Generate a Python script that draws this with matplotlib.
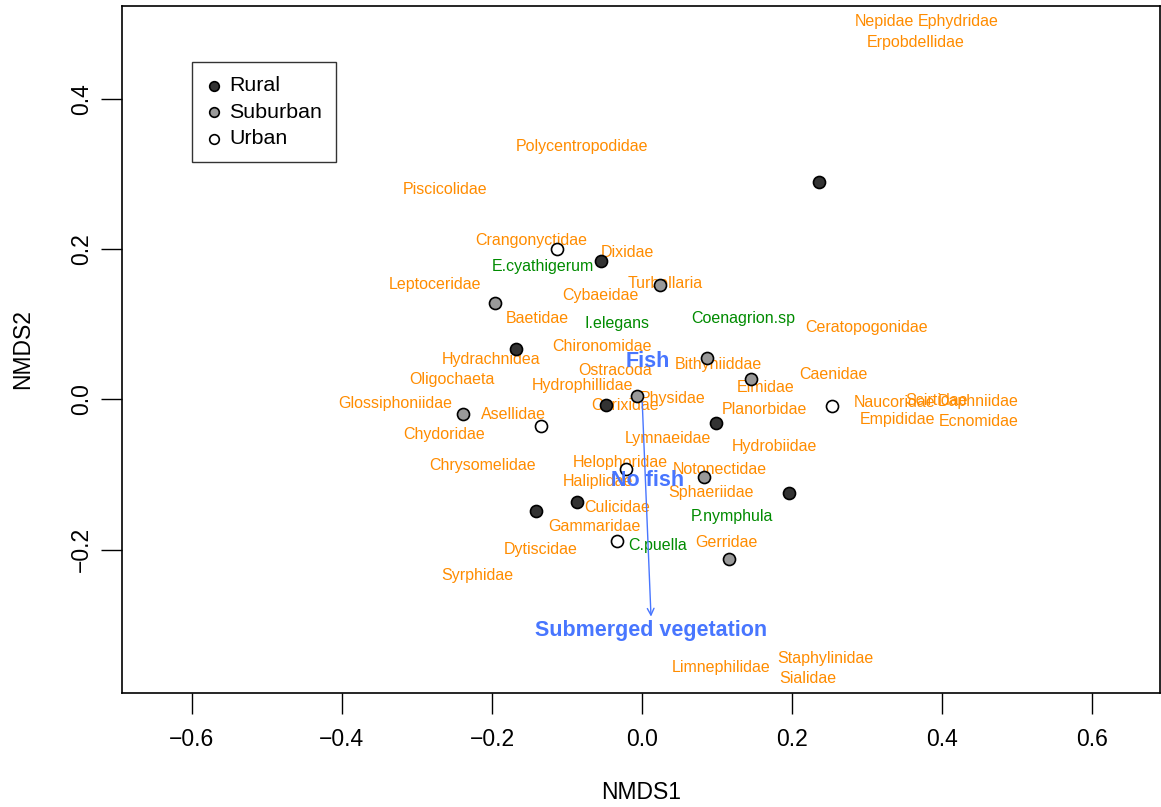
import matplotlib
matplotlib.use("Agg")
import matplotlib.pyplot as plt

plt.rcParams['font.family'] = ['Liberation Sans', 'DejaVu Sans']

# site scores by land use
rural_x = [0.236, -0.055, -0.168, -0.048, 0.099, 0.196, -0.087, -0.141]
rural_y = [0.289, 0.184, 0.067, -0.007, -0.031, -0.124, -0.137, -0.148]
suburban_x = [0.024, -0.196, 0.087, 0.145, -0.007, -0.239, 0.083, 0.116]
suburban_y = [0.152, 0.129, 0.055, 0.027, 0.004, -0.020, -0.104, -0.212]
urban_x = [-0.113, 0.253, -0.135, -0.021, -0.033]
urban_y = [0.200, -0.009, -0.035, -0.093, -0.188]

# invertebrate families
fam_names = ["Nepidae", "Ephydridae", "Erpobdellidae", "Polycentropodidae",
             "Piscicolidae", "Crangonyctidae", "Dixidae", "Leptoceridae",
             "Turbellaria", "Cybaeidae", "Baetidae", "Ceratopogonidae",
             "Chironomidae", "Hydrachnidea", "Bithyniiddae", "Ostracoda",
             "Oligochaeta", "Caenidae", "Hydrophillidae", "Elmidae",
             "Physidae", "Glossiphoniidae", "Corixidae", "Planorbidae",
             "Asellidae", "Naucoridae", "Scirtidae", "Daphniidae",
             "Empididae", "Ecnomidae", "Chydoridae", "Lymnaeidae",
             "Hydrobiidae", "Chrysomelidae", "Helophoridae", "Notonectidae",
             "Haliplidae", "Sphaeriidae", "Culicidae", "Gammaridae",
             "Dytiscidae", "Gerridae", "Syrphidae", "Limnephilidae",
             "Staphylinidae", "Sialidae"]
fam_x = [0.323, 0.421, 0.365, -0.080, -0.263, -0.148, -0.020, -0.276,
         0.031, -0.055, -0.140, 0.299, -0.053, -0.201, 0.101, -0.036,
         -0.253, 0.255, -0.079, 0.164, 0.040, -0.329, -0.023, 0.163,
         -0.172, 0.336, 0.392, 0.448, 0.340, 0.448, -0.264, 0.035,
         0.176, -0.213, -0.029, 0.103, -0.059, 0.092, -0.033, -0.063,
         -0.135, 0.113, -0.219, 0.105, 0.244, 0.221]
fam_y = [0.503, 0.503, 0.475, 0.337, 0.279, 0.212, 0.196, 0.153,
         0.155, 0.139, 0.108, 0.096, 0.071, 0.053, 0.047, 0.039,
         0.027, 0.033, 0.019, 0.016, 0.001, -0.005, -0.008, -0.013,
         -0.020, -0.004, -0.001, -0.003, -0.027, -0.029, -0.047, -0.052,
         -0.063, -0.088, -0.084, -0.093, -0.109, -0.124, -0.144, -0.169,
         -0.200, -0.191, -0.235, -0.357, -0.345, -0.372]

# damselfly species
sp_names = ["E.cyathigerum", "I.elegans", "Coenagrion.sp", "P.nymphula", "C.puella"]
sp_x = [-0.132, -0.033, 0.135, 0.120, 0.021]
sp_y = [0.177, 0.101, 0.108, -0.156, -0.195]

# environmental fit
fish_names = ["Fish", "No fish"]
fish_x = [0.007, 0.007]
fish_y = [0.051, -0.108]
veg_name = "Submerged vegetation"
veg_x = 0.012
veg_y = -0.293

orange = "#FF8C00"
green = "#008B00"
blue = "#4876FF"

fig = plt.figure(figsize=(11.61, 8.07), dpi=100)
ax = fig.add_axes([0.1051, 0.1413, 0.894, 0.8513])

for n, x, y in zip(fam_names, fam_x, fam_y):
    ax.text(x, y, n, color=orange, fontsize=11.5, ha='center', va='center', zorder=2)
for n, x, y in zip(sp_names, sp_x, sp_y):
    ax.text(x, y, n, color=green, fontsize=11.5, ha='center', va='center', zorder=2)

ax.scatter(rural_x, rural_y, s=75, c="#333333", edgecolors='black', linewidths=1.2, zorder=3, label="Rural")
ax.scatter(suburban_x, suburban_y, s=75, c="#999999", edgecolors='black', linewidths=1.2, zorder=3, label="Suburban")
ax.scatter(urban_x, urban_y, s=75, c="white", edgecolors='black', linewidths=1.2, zorder=3, label="Urban")

ax.annotate("", xy=(veg_x, veg_y), xytext=(0, 0),
            arrowprops=dict(arrowstyle="->", color=blue, lw=1.0, mutation_scale=12), zorder=4)
ax.text(veg_x, veg_y - 0.015, veg_name, color=blue, fontsize=15.5, fontweight='bold',
        ha='center', va='center', zorder=5)
for n, x, y in zip(fish_names, fish_x, fish_y):
    ax.text(x, y, n, color=blue, fontsize=15.5, fontweight='bold', ha='center', va='center', zorder=5)

ax.set_xlim(-0.693, 0.690)
ax.set_ylim(-0.391, 0.524)
ax.set_xticks([-0.6, -0.4, -0.2, 0.0, 0.2, 0.4, 0.6])
ax.set_yticks([-0.2, 0.0, 0.2, 0.4])
ax.set_xticklabels(["\u22120.6", "\u22120.4", "\u22120.2", "0.0", "0.2", "0.4", "0.6"])
ax.set_yticklabels(["\u22120.2", "0.0", "0.2", "0.4"], rotation=90, va='center')
ax.tick_params(labelsize=16.5, length=15, width=1, direction='out')
ax.tick_params(axis='x', pad=10)
ax.tick_params(axis='y', pad=6)
for s in ax.spines.values():
    s.set_linewidth(1.2)
ax.set_xlabel("NMDS1", fontsize=16.5, labelpad=22)
ax.set_ylabel("NMDS2", fontsize=16.5, labelpad=26)

leg = ax.legend(loc='upper left', bbox_to_anchor=(0.0674, 0.918), fontsize=15.4,
                frameon=True, fancybox=False, edgecolor='black', markerscale=0.8,
                handletextpad=0.3, borderpad=0.65, labelspacing=0.35, handlelength=0.8,
                borderaxespad=0)
leg.get_frame().set_linewidth(1.0)

fig.savefig("out.png", dpi=100)
